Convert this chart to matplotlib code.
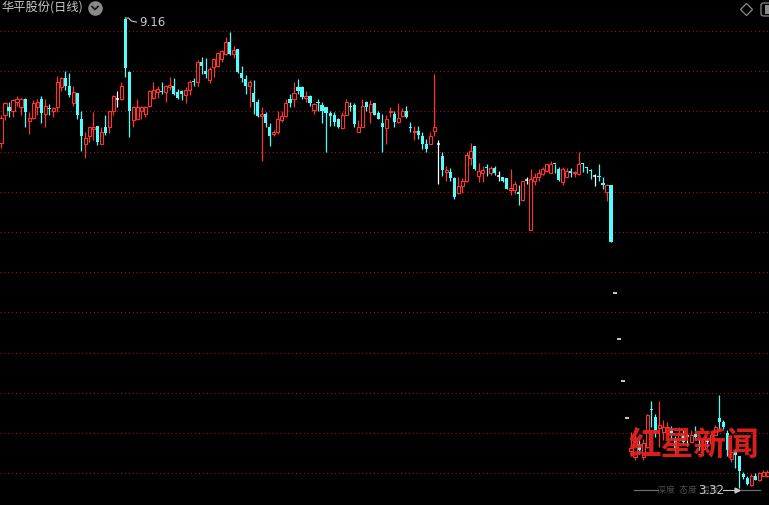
import matplotlib
matplotlib.use("Agg")
import matplotlib.pyplot as plt
import numpy as np
from matplotlib.patches import FancyBboxPatch

plt.rcParams["font.family"] = ["Noto Sans CJK SC", "DejaVu Sans"]

W, H = 769, 505
RED = "#FF3232"
CYAN = "#54FCFC"
WHITE = "#FFFFFF"
GRID = "#A01414"
LABEL = "#C8C8C8"

TITLE = "华平股份(日线)"
HIGH_LABEL = "9.16"
LOW_LABEL = "3.32"
GRID_LEVELS = [9.0, 8.5, 8.0, 7.5, 7.0, 6.5, 6.0, 5.5, 5.0, 4.5, 4.0, 3.5]

# daily bars (price)
opens = [
    7.61, 7.95, 8.06, 8.01, 8.12, 8.05, 8.15, 7.88, 7.92, 8.05,
    8.15, 7.97, 8.04, 8.00, 8.05, 8.30, 8.42, 8.32, 8.10, 8.23,
    7.91, 7.60, 7.69, 7.78, 7.82, 7.60, 7.81, 7.80, 8.01, 8.16,
    8.16, 9.15, 8.49, 7.89, 7.90, 8.01, 7.97, 8.07, 8.17, 8.24,
    8.25, 8.24, 8.30, 8.31, 8.24, 8.25, 8.20, 8.26, 8.37, 8.37,
    8.62, 8.50, 8.39, 8.55, 8.57, 8.65, 8.72, 8.86, 8.72, 8.77,
    8.48, 8.40, 8.31, 8.23, 8.12, 7.94, 7.97, 7.80, 7.72, 7.74,
    7.89, 7.94, 8.16, 8.15, 8.30, 8.30, 8.17, 8.19, 8.02, 8.11,
    8.08, 8.06, 7.98, 7.96, 7.90, 7.79, 7.96, 8.07, 8.08, 7.75,
    7.81, 8.12, 7.99, 8.10, 7.98, 7.85, 7.79, 7.99, 7.97, 7.87,
    7.94, 8.00, 7.80, 7.74, 7.76, 7.70, 7.60, 7.60, 7.76, 7.60,
    7.45, 7.25, 7.25, 7.17, 6.98, 7.07, 7.13, 7.42, 7.57, 7.20,
    7.24, 7.31, 7.24, 7.30, 7.20, 7.19, 7.17, 7.02, 7.02, 7.00,
    6.90, 7.15, 6.53, 7.13, 7.18, 7.22, 7.26, 7.24, 7.35, 7.28,
    7.12, 7.19, 7.26, 7.23, 7.22, 7.36, 7.31, 7.27, 7.20, 7.19,
    7.11, 7.00, 7.08, 5.74, 5.17, 4.65, 4.19, 3.77, 3.70, 3.86,
    3.70, 3.83, 4.30, 4.20, 4.06, 4.01, 4.00, 4.05, 3.93, 3.91,
    3.98, 3.96, 3.89, 3.99, 3.86, 3.80, 3.90, 3.87, 3.98, 4.19,
    4.14, 4.00, 3.68, 3.77, 3.71, 3.49, 3.44, 3.35, 3.46, 3.41,
    3.47, 3.46,
]
highs = [
    7.95, 8.12, 8.12, 8.16, 8.19, 8.17, 8.17, 7.99, 8.14, 8.16,
    8.19, 8.16, 8.09, 8.05, 8.44, 8.43, 8.50, 8.48, 8.32, 8.23,
    8.01, 7.74, 7.81, 7.99, 7.82, 7.80, 7.96, 8.01, 8.21, 8.25,
    8.37, 9.16, 8.50, 8.07, 8.15, 8.07, 8.07, 8.26, 8.37, 8.31,
    8.37, 8.33, 8.43, 8.41, 8.28, 8.27, 8.30, 8.39, 8.41, 8.64,
    8.68, 8.67, 8.55, 8.66, 8.74, 8.76, 8.92, 8.99, 8.81, 8.77,
    8.57, 8.45, 8.39, 8.39, 8.16, 8.05, 7.99, 7.85, 7.77, 8.00,
    8.00, 8.16, 8.22, 8.37, 8.40, 8.32, 8.25, 8.21, 8.11, 8.16,
    8.12, 8.06, 8.01, 7.99, 7.92, 7.99, 8.15, 8.12, 8.10, 7.89,
    8.15, 8.13, 8.14, 8.11, 8.01, 7.97, 7.95, 8.06, 8.00, 8.10,
    8.04, 8.07, 7.87, 7.82, 7.82, 7.75, 7.66, 7.74, 8.46, 7.65,
    7.50, 7.32, 7.29, 7.18, 7.18, 7.17, 7.50, 7.61, 7.57, 7.36,
    7.32, 7.34, 7.32, 7.32, 7.26, 7.19, 7.17, 7.28, 7.13, 7.09,
    7.14, 7.19, 7.28, 7.23, 7.28, 7.31, 7.35, 7.38, 7.35, 7.31,
    7.31, 7.29, 7.30, 7.26, 7.49, 7.36, 7.31, 7.28, 7.22, 7.34,
    7.19, 7.10, 7.09, 5.74, 5.17, 4.65, 4.19, 4.01, 4.08, 3.91,
    3.92, 4.24, 4.40, 4.24, 4.40, 4.16, 4.14, 4.09, 3.96, 4.08,
    4.04, 4.00, 4.04, 4.09, 3.92, 3.94, 3.93, 4.02, 4.10, 4.47,
    4.16, 4.04, 3.80, 3.80, 3.72, 3.52, 3.47, 3.49, 3.50, 3.52,
    3.54, 3.54,
]
lows = [
    7.55, 7.89, 7.93, 7.93, 8.07, 7.95, 7.80, 7.72, 7.91, 7.95,
    7.85, 7.81, 7.95, 7.93, 7.99, 8.25, 8.26, 8.18, 8.07, 7.91,
    7.51, 7.42, 7.62, 7.64, 7.58, 7.59, 7.71, 7.73, 7.95, 8.05,
    8.14, 8.43, 7.68, 7.80, 7.89, 7.90, 7.93, 8.06, 8.16, 8.17,
    8.22, 8.12, 8.26, 8.20, 8.16, 8.14, 8.10, 8.20, 8.31, 8.31,
    8.47, 8.41, 8.35, 8.43, 8.55, 8.62, 8.70, 8.70, 8.66, 8.48,
    8.37, 8.22, 8.05, 7.97, 7.93, 7.38, 7.80, 7.57, 7.70, 7.72,
    7.87, 7.93, 8.06, 8.06, 8.22, 8.16, 8.12, 8.07, 7.97, 8.01,
    7.85, 7.50, 7.82, 7.82, 7.79, 7.78, 7.95, 8.01, 7.81, 7.74,
    7.80, 8.01, 7.85, 7.95, 7.90, 7.50, 7.60, 7.93, 7.81, 7.85,
    7.93, 7.92, 7.74, 7.65, 7.66, 7.53, 7.50, 7.59, 7.70, 7.10,
    7.20, 7.13, 7.14, 6.91, 6.97, 6.99, 7.12, 7.33, 7.27, 7.12,
    7.12, 7.20, 7.21, 7.21, 7.14, 7.12, 7.03, 6.96, 6.97, 6.84,
    6.89, 7.10, 6.52, 7.09, 7.14, 7.21, 7.25, 7.23, 7.24, 7.14,
    7.09, 7.18, 7.19, 7.19, 7.21, 7.25, 7.24, 7.16, 7.07, 7.14,
    7.03, 6.88, 6.38, 5.74, 5.17, 4.65, 4.19, 3.71, 3.67, 3.74,
    3.66, 3.81, 4.08, 3.95, 3.82, 3.91, 3.97, 3.93, 3.73, 3.90,
    3.86, 3.84, 3.87, 3.91, 3.79, 3.77, 3.82, 3.86, 3.97, 4.04,
    4.05, 3.72, 3.64, 3.57, 3.32, 3.43, 3.35, 3.34, 3.41, 3.40,
    3.46, 3.45,
]
closes = [
    7.92, 8.11, 8.00, 8.14, 8.15, 8.16, 7.99, 7.92, 8.10, 8.12,
    7.98, 8.07, 8.03, 8.04, 8.37, 8.41, 8.31, 8.20, 8.24, 7.96,
    7.70, 7.67, 7.80, 7.80, 7.62, 7.74, 7.73, 8.00, 8.19, 8.16,
    8.32, 8.54, 8.01, 8.06, 8.06, 8.06, 8.06, 8.25, 8.26, 8.28,
    8.24, 8.31, 8.33, 8.22, 8.17, 8.22, 8.26, 8.37, 8.36, 8.62,
    8.57, 8.46, 8.53, 8.65, 8.73, 8.75, 8.86, 8.72, 8.76, 8.49,
    8.41, 8.31, 8.37, 8.12, 7.94, 7.97, 7.85, 7.70, 7.74, 7.90,
    7.94, 8.11, 8.11, 8.23, 8.25, 8.18, 8.19, 8.10, 8.09, 8.10,
    8.00, 7.98, 7.94, 7.87, 7.80, 7.96, 8.12, 8.06, 7.84, 7.81,
    8.07, 8.06, 8.09, 7.96, 7.91, 7.80, 7.91, 8.01, 7.87, 7.92,
    8.01, 7.93, 7.79, 7.76, 7.71, 7.60, 7.53, 7.70, 7.81, 7.60,
    7.27, 7.27, 7.17, 6.94, 7.07, 7.14, 7.46, 7.51, 7.28, 7.26,
    7.27, 7.30, 7.29, 7.23, 7.20, 7.14, 7.04, 7.05, 7.10, 6.97,
    7.13, 7.15, 7.16, 7.18, 7.23, 7.28, 7.34, 7.34, 7.34, 7.15,
    7.28, 7.26, 7.24, 7.25, 7.35, 7.34, 7.29, 7.26, 7.20, 7.18,
    7.08, 7.09, 6.38, 5.74, 5.17, 4.65, 4.19, 3.81, 3.90, 3.79,
    3.87, 4.23, 4.29, 4.02, 4.10, 4.07, 4.08, 3.99, 3.81, 3.97,
    3.89, 3.96, 3.98, 3.95, 3.84, 3.92, 3.90, 3.98, 4.08, 4.14,
    4.07, 3.79, 3.76, 3.73, 3.53, 3.45, 3.37, 3.46, 3.42, 3.50,
    3.52, 3.51,
]

o = np.array(opens)
h = np.array(highs)
l = np.array(lows)
c = np.array(closes)
x = np.arange(len(o))

flat = np.isclose(o, c)
up = (c > o) & ~flat
down = (c < o) & ~flat


def price_at(py):
    # pixel row -> price (grid 9.0 at row 31, 80.4 px per yuan)
    return 9.0 - (py - 31) / 80.4


def fxy(px, py):
    return px / W, 1 - py / H


fig = plt.figure(figsize=(W / 100, H / 100), dpi=100, facecolor="black")
ax = fig.add_axes([0, 0, 1, 1])
ax.set_facecolor("black")
ax.set_xlim(-1 / 4.013, (W - 1) / 4.013)
ax.set_ylim(price_at(H), price_at(0))
ax.axis("off")

for lvl in GRID_LEVELS:
    ax.axhline(lvl, color=GRID, lw=0.8, linestyle=(0, (1, 2.5)), zorder=1)

bw = 0.78
ax.vlines(x[up], l[up], h[up], color=RED, lw=0.9, zorder=2)
ax.vlines(x[down], l[down], h[down], color=CYAN, lw=0.9, zorder=2)
ax.vlines(x[flat], l[flat], h[flat], color=WHITE, lw=0.9, zorder=2)
ax.bar(x[up], c[up] - o[up], bottom=o[up], width=bw, facecolor="black",
       edgecolor=RED, linewidth=0.8, zorder=3)
ax.bar(x[down], np.maximum(o[down] - c[down], 0.012), bottom=c[down],
       width=bw, color=CYAN, linewidth=0, zorder=3)
ax.hlines(o[flat], x[flat] - bw / 2, x[flat] + bw / 2, color=WHITE, lw=1.1, zorder=3)

# title and icons
fig.text(*fxy(1, 8), TITLE, color=LABEL, fontsize=8.8, va="center", ha="left")
fig.add_artist(plt.Line2D([95 / W], [1 - 8 / H], marker="o", markersize=9.5,
                          color="#8A8A8A", transform=fig.transFigure))
fig.add_artist(plt.Line2D([92 / W, 95 / W, 98 / W], [1 - 6.5 / H, 1 - 9.5 / H, 1 - 6.5 / H],
                          color="#202020", lw=1.3, transform=fig.transFigure))
fig.add_artist(plt.Line2D([746 / W], [1 - 9 / H], marker="D", markersize=6.5,
                          markerfacecolor="none", markeredgecolor="#8A8A8A",
                          markeredgewidth=0.9, transform=fig.transFigure))
fig.add_artist(FancyBboxPatch((761 / W, 1 - 16 / H), 12 / W, 13 / H,
                              boxstyle="round,pad=0,rounding_size=0.004",
                              facecolor="none", edgecolor="#8A8A8A", lw=0.9,
                              transform=fig.transFigure))
fig.add_artist(plt.Rectangle((765 / W, 1 - 14 / H), 4 / W, 9 / H,
                             facecolor="#8A8A8A", transform=fig.transFigure))

# high marker
imax = int(np.argmax(h))
hx = (imax + 0.25) * 4.013
fig.add_artist(plt.Line2D([hx / W, (hx + 3) / W, (hx + 6) / W, (hx + 11) / W],
                          [1 - 18 / H, 1 - 18 / H, 1 - 21 / H, 1 - 22 / H],
                          color=LABEL, lw=0.8, transform=fig.transFigure))
fig.text(*fxy(139, 23), HIGH_LABEL, color=LABEL, fontsize=8.5, va="center", ha="left",
         family="DejaVu Sans")

# watermark
fig.text(*fxy(694, 445), "红星新闻", color="#E8231E", fontsize=23.5, fontweight="bold",
         va="center", ha="center", alpha=0.92, zorder=10)
fig.text(*fxy(688, 490), "深度  态度  温度", color="#4A4A4A", fontsize=6.5,
         va="center", ha="center", zorder=10)
for x0, x1 in [(634, 658), (737, 760)]:
    fig.add_artist(plt.Line2D([x0 / W, x1 / W], [1 - 490 / H, 1 - 490 / H],
                              color="#6A6A6A", lw=0.9, transform=fig.transFigure))

# low marker
fig.text(*fxy(698, 490), LOW_LABEL, color=LABEL, fontsize=8.5, va="center", ha="left",
         family="DejaVu Sans", zorder=11)
fig.add_artist(plt.Line2D([723 / W, 737 / W], [1 - 490 / H, 1 - 490 / H],
                          color=LABEL, lw=0.8, transform=fig.transFigure))
fig.add_artist(plt.Line2D([737 / W], [1 - 490 / H], marker=">", markersize=3.5,
                          color=LABEL, transform=fig.transFigure))

fig.savefig("out.png", dpi=100, facecolor="black")
